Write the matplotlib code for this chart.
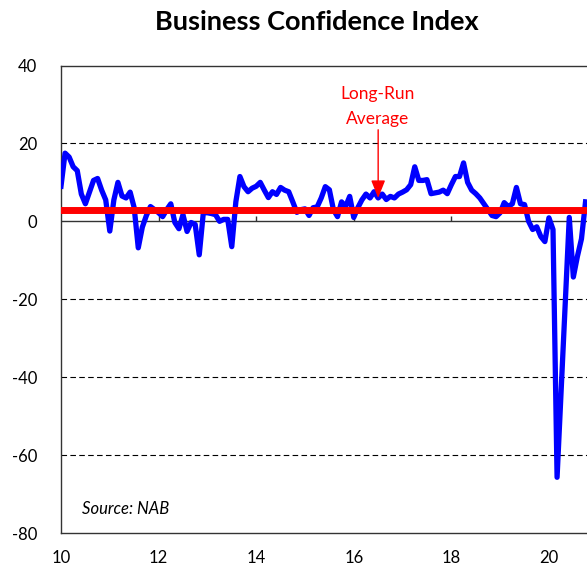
#!/usr/bin/env python3

import matplotlib

matplotlib.use("Agg")
import matplotlib.pyplot as plt
import numpy as np


# monthly NAB business confidence, Jan 2010 .. Oct 2020
START_YEAR = 10
CONFIDENCE = [
    9, 17.5, 16.5, 14, 13, 7, 4.5, 7.5, 10.5, 11, 8, 5.5,            # 2010
    -2.5, 5.5, 10, 6.5, 6, 7.5, 3.5, -6.8, -1.5, 1.5, 3.8, 3,        # 2011
    2.2, 1.2, 3, 4.5, -0.3, -1.9, 1.7, -2.6, -0.3, -0.8, -8.6, 2.2,  # 2012
    2.2, 2, 1.7, 0, 0.5, 0.5, -6.5, 5, 11.5, 8.9, 7.6, 8.5,          # 2013
    9, 10, 8, 6.1, 7.6, 6.9, 8.7, 8, 7.6, 5, 2.3, 3,                 # 2014
    3.2, 1.5, 3.5, 3.7, 6, 8.9, 8.1, 3, 1.2, 5, 3.8, 6.4,            # 2015
    1, 3.5, 5.5, 7, 6, 7.6, 6, 7, 5.6, 6.4, 6, 7,                    # 2016
    7.5, 8.1, 9.4, 14, 10.5, 10.5, 10.7, 7.1, 7.3, 7.5, 8, 7.1,      # 2017
    9.4, 11.5, 11.5, 15, 10, 8, 7.1, 6, 4.5, 3, 1.5, 1.2,            # 2018
    2.2, 4.8, 3.8, 4.5, 8.7, 4.5, 4.3, 0, -2.1, -1.4, -3.9, -5.2,    # 2019
    0.9, -2.1, -65.7, -43.5, -21, 1, -14.3, -9, -4.5, 5,             # 2020
]
LONG_RUN_AVERAGE = 2.8

Y_TICKS = [-80, -60, -40, -20, 0, 20, 40]
X_TICKS = [10, 12, 14, 16, 18, 20]
GRID_LEVELS = [-60, -40, -20, 20]

plt.rcParams["font.family"] = ["Lato", "DejaVu Sans"]

x = START_YEAR + np.arange(len(CONFIDENCE)) / 12.0
y = np.array(CONFIDENCE, dtype=float)

fig = plt.figure(figsize=(5.87, 5.67), dpi=100)
ax = fig.add_axes([61 / 587, 34 / 567, 1 - 61 / 587, 467.5 / 567])

ax.set_xlim(10, 20.78)
ax.set_ylim(-80, 40)

for level in GRID_LEVELS:
    ax.axhline(level, color="black", linewidth=0.8, linestyle=(0, (5, 3)), zorder=1)
ax.axhline(0, color="#333333", linewidth=1.0, zorder=1)
ax.vlines(X_TICKS[1:], 0, 1.4, color="#333333", linewidth=1.0, zorder=1)

ax.plot(x, y, color="#0000FF", linewidth=3.8, solid_joinstyle="round", zorder=3)
ax.axhline(LONG_RUN_AVERAGE, color="#FF0000", linewidth=5.0, zorder=4)

ax.text(16.48, 29.5, "Long-Run\nAverage", color="#FF0000", fontsize=12.5,
        ha="center", va="center", linespacing=1.75, zorder=5)
ax.annotate("", xy=(16.5, 6.0), xytext=(16.5, 23.5),
            arrowprops=dict(arrowstyle="-|>,head_length=0.45,head_width=0.18",
                            color="#FF0000", lw=1.0,
                            mutation_scale=24, shrinkA=0, shrinkB=0),
            zorder=5)

ax.text(10.43, -73.8, "Source: NAB", fontsize=12, style="italic",
        ha="left", va="center")

ax.set_xticks(X_TICKS)
ax.set_xticklabels([str(t) for t in X_TICKS])
ax.set_yticks(Y_TICKS)
ax.set_yticklabels([str(t) for t in Y_TICKS])
ax.tick_params(axis="both", length=0, labelsize=12)
ax.tick_params(axis="x", pad=12)
ax.tick_params(axis="y", pad=17)

for side in ["left", "top", "bottom"]:
    ax.spines[side].set_color("#333333")
    ax.spines[side].set_linewidth(1.0)
ax.spines["right"].set_visible(False)

fig.text(317 / 587, 1 - 22 / 567, "Business Confidence Index", fontsize=19.5,
         fontweight="bold", ha="center", va="center")

fig.savefig("out.png", dpi=100)
plt.close(fig)
